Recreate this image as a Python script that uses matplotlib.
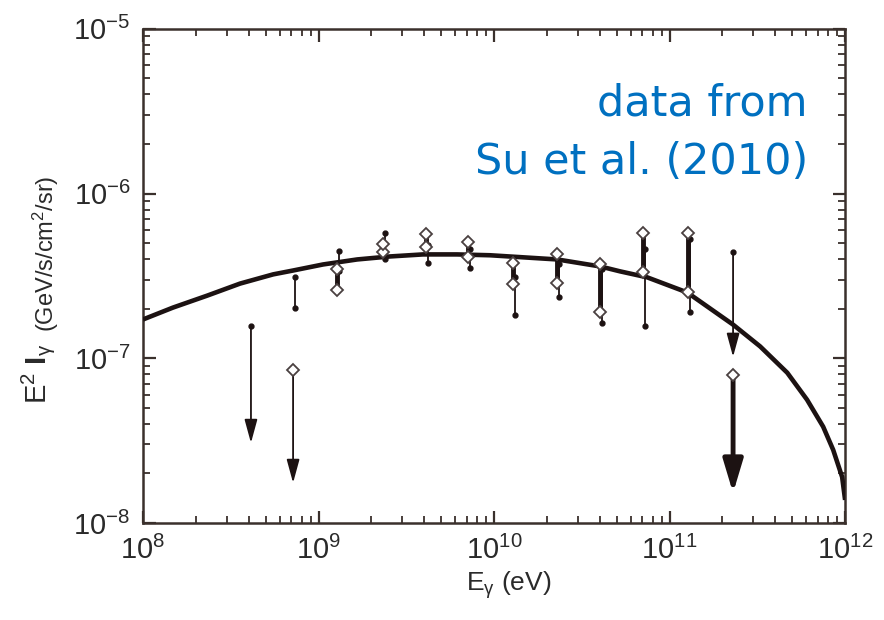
import matplotlib
matplotlib.use("Agg")
import matplotlib.pyplot as plt
import numpy as np

# ---------------- data ----------------
# model curve
curve_E = [1.0e8, 1.48e8, 2.32e8, 3.57e8, 5.51e8, 7.16e8, 1.06e9, 1.66e9, 2.55e9, 3.94e9,
           6.15e9, 9.49e9, 2.29e10, 4.02e10, 5.22e10, 7.45e10, 1.26e11, 2.30e11,
           3.28e11, 4.68e11, 6.07e11, 7.50e11, 8.55e11, 9.62e11, 1.0e12]
curve_F = [1.72e-7, 2.03e-7, 2.40e-7, 2.84e-7, 3.23e-7, 3.41e-7, 3.71e-7, 3.98e-7, 4.15e-7, 4.27e-7,
           4.27e-7, 4.22e-7, 3.98e-7, 3.61e-7, 3.37e-7, 3.10e-7, 2.51e-7, 1.60e-7,
           1.18e-7, 8.17e-8, 5.60e-8, 3.84e-8, 2.78e-8, 1.90e-8, 1.38e-8]

# open-diamond measurements (thick bars between the two values)
diam_E = [1.27e9, 2.33e9, 4.1e9, 7.1e9, 1.28e10, 2.29e10, 4.02e10, 7.06e10, 1.27e11]
diam_hi = [3.46e-7, 4.91e-7, 5.65e-7, 5.06e-7, 3.77e-7, 4.27e-7, 3.71e-7, 5.73e-7, 5.73e-7]
diam_lo = [2.58e-7, 4.40e-7, 4.71e-7, 4.10e-7, 2.81e-7, 2.88e-7, 1.90e-7, 3.32e-7, 2.54e-7]

# open-diamond upper limits
diam_ul_E = [7.16e8, 2.30e11]
diam_ul_val = [8.53e-8, 7.94e-8]
diam_ul_end = [1.75e-8, 1.52e-8]

# thin error bars with dot caps
thin_E = [7.16e8, 1.27e9, 2.33e9, 4.1e9, 7.1e9, 1.28e10, 2.29e10, 4.02e10, 7.06e10, 1.27e11]
thin_hi = [3.10e-7, 4.46e-7, 5.80e-7, 4.90e-7, 4.58e-7, 3.10e-7, 3.71e-7, 3.46e-7, 4.58e-7, 5.27e-7]
thin_lo = [2.03e-7, 3.37e-7, 3.98e-7, 3.77e-7, 3.51e-7, 1.82e-7, 2.37e-7, 1.63e-7, 1.56e-7, 1.90e-7]

# thin upper limits
thin_ul_E = [4.12e8, 2.30e11]
thin_ul_val = [1.56e-7, 4.40e-7]
thin_ul_end = [3.06e-8, 1.02e-7]

x_ticks = [1e8, 1e9, 1e10, 1e11, 1e12]
y_ticks = [1e-8, 1e-7, 1e-6, 1e-5]

# ---------------- style ----------------
plt.rcParams['font.family'] = ['Liberation Sans', 'DejaVu Sans']
plt.rcParams['mathtext.fontset'] = 'custom'
plt.rcParams['mathtext.rm'] = 'Liberation Sans'
plt.rcParams['mathtext.it'] = 'Liberation Sans:italic'
plt.rcParams['mathtext.bf'] = 'Liberation Sans:bold'

ink = '#1c1212'
frame = '#3a302c'
txt = '#2a2a2a'

fig = plt.figure(figsize=(8.84, 6.2), dpi=100)
ax = fig.add_axes([0.1618, 0.1565, 0.7942, 0.797])
ax.set_xscale('log')
ax.set_yscale('log')
ax.set_xlim(1e8, 1e12)
ax.set_ylim(1e-8, 1e-5)

# model curve
ax.plot(curve_E, curve_F, color=ink, lw=3.3, solid_joinstyle='round',
        solid_capstyle='butt', zorder=3, clip_on=True)

thin_shift = 1.03

# thin error bars
for E, hi, lo in zip(thin_E, thin_hi, thin_lo):
    ax.plot([E * thin_shift, E * thin_shift], [lo, hi], color=ink, lw=1.3, zorder=4)
    ax.plot([E * thin_shift, E * thin_shift], [lo, hi], 'o', color=ink, ms=3.5, zorder=4)

# thin upper limits
for E, v, e in zip(thin_ul_E, thin_ul_val, thin_ul_end):
    ax.annotate('', xy=(E, e), xytext=(E, v),
                arrowprops=dict(arrowstyle='-|>,head_length=1.1,head_width=0.3',
                                color=ink, lw=1.3, shrinkA=0, shrinkB=0,
                                mutation_scale=13), zorder=4)
    ax.plot([E], [v], 'o', color=ink, ms=3.5, zorder=4)

# thick diamond bars
for E, hi, lo in zip(diam_E, diam_hi, diam_lo):
    ax.plot([E, E], [lo, hi], color=ink, lw=3.5, zorder=5, solid_capstyle='butt')
    ax.plot([E, E], [lo, hi], 'D', ms=6.5, mfc='white', mec='#4a4040', mew=1.3, zorder=6)

# diamond upper limits (first thin, second thick)
ul_styles = [dict(lw=1.3, style='-|>,head_length=1.1,head_width=0.3', scale=13),
             dict(lw=3.5, style='-|>,head_length=1.0,head_width=0.3', scale=20)]
for E, v, e, st in zip(diam_ul_E, diam_ul_val, diam_ul_end, ul_styles):
    ax.annotate('', xy=(E, e), xytext=(E, v),
                arrowprops=dict(arrowstyle=st['style'], color=ink, lw=st['lw'],
                                shrinkA=0, shrinkB=0, mutation_scale=st['scale']),
                zorder=5)
    ax.plot([E], [v], 'D', ms=6.5, mfc='white', mec='#4a4040', mew=1.3, zorder=6)

# axes styling
for s in ax.spines.values():
    s.set_color(frame)
    s.set_linewidth(1.8)
ax.tick_params(which='both', direction='in', top=True, right=True, color=frame)
ax.tick_params(which='major', length=9, width=1.6, labelsize=21, pad=9, labelcolor=txt)
ax.tick_params(which='minor', length=5, width=1.3)
ax.set_xticks(x_ticks)
ax.set_yticks(y_ticks)
ax.set_xticklabels([r'$10^{%d}$' % int(round(np.log10(v))) for v in x_ticks])
ax.set_yticklabels([r'$10^{%d}$' % int(round(np.log10(v))) for v in y_ticks])

# axis labels
fig.text(0.576, 0.03, r'E$_{\mathrm{γ}}$ (eV)', fontsize=19, ha='center', va='bottom', color=txt)
fig.text(0.043, 0.348, r'E$^{2}$ $\mathbf{I}_{\mathrm{γ}}$', fontsize=21, rotation=90,
         ha='center', va='bottom', color=txt)
fig.text(0.052, 0.465, r'(GeV/s/cm$^{2}$/sr)', fontsize=17, rotation=90,
         ha='center', va='bottom', color=txt)

# annotation
fig.text(0.914, 0.72, 'data from\nSu et al. (2010)', fontsize=31, color='#0070C0',
         ha='right', va='baseline', family=['DejaVu Sans'], linespacing=1.5)

fig.savefig('out.png', dpi=100)
